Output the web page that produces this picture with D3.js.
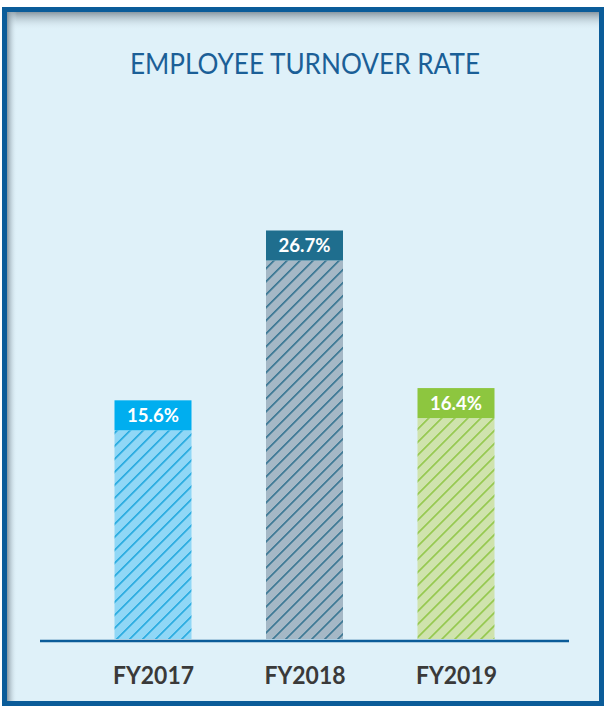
<!DOCTYPE html>
<html>
<head>
<meta charset="utf-8">
<script src="https://cdn.jsdelivr.net/npm/d3@7"></script>
<style>
  html, body { margin: 0; padding: 0; background: #ffffff; }
  svg { display: block; }
</style>
</head>
<body>
<svg id="chart" width="604" height="707"></svg>
<script>
// Turnover rate per fiscal year (percent)
const categories = ["FY2017", "FY2018", "FY2019"];
const values = [15.6, 26.7, 16.4];
const valueLabels = ["15.6%", "26.7%", "16.4%"];

// Per-bar palette: label box, hatch background, hatch stroke
const boxColors = ["#00aeef", "#1f6e8e", "#8dc63f"];
const fillColors = ["#90d7f6", "#a5b8c6", "#cfe3ad"];
const lineColors = ["#18a4dc", "#2a6d8c", "#8cc43f"];

const svg = d3.select("#chart");

const defs = svg.append("defs");

// Soft inner shadow along the top and left edges of the panel
const gTop = defs.append("linearGradient").attr("id", "shadeTop")
  .attr("x1", 0).attr("y1", 0).attr("x2", 0).attr("y2", 1);
gTop.append("stop").attr("offset", 0).attr("stop-color", "#7f8e98").attr("stop-opacity", 0.9);
gTop.append("stop").attr("offset", 1).attr("stop-color", "#dff1f9").attr("stop-opacity", 0);

const gLeft = defs.append("linearGradient").attr("id", "shadeLeft")
  .attr("x1", 0).attr("y1", 0).attr("x2", 1).attr("y2", 0);
gLeft.append("stop").attr("offset", 0).attr("stop-color", "#7f8e98").attr("stop-opacity", 0.9);
gLeft.append("stop").attr("offset", 1).attr("stop-color", "#dff1f9").attr("stop-opacity", 0);

// Diagonal hatch patterns, one per bar
const hs = 9.2;
categories.forEach((c, i) => {
  const p = defs.append("pattern")
    .attr("id", "hatch" + i)
    .attr("patternUnits", "userSpaceOnUse")
    .attr("width", hs).attr("height", hs)
    .attr("patternTransform", "rotate(45)");
  p.append("rect").attr("width", hs).attr("height", hs).attr("fill", fillColors[i]);
  p.append("line").attr("x1", 0.8).attr("y1", 0).attr("x2", 0.8).attr("y2", hs)
    .attr("stroke", lineColors[i]).attr("stroke-width", 1.5);
});

// Panel with frame
svg.append("rect")
  .attr("x", 4.5).attr("y", 9.5).attr("width", 597).attr("height", 694)
  .attr("fill", "#dff1f9").attr("stroke", "#0b5c99").attr("stroke-width", 5);
svg.append("rect").attr("x", 7).attr("y", 12).attr("width", 592).attr("height", 18)
  .attr("fill", "url(#shadeTop)");
svg.append("rect").attr("x", 7).attr("y", 12).attr("width", 10).attr("height", 689)
  .attr("fill", "url(#shadeLeft)");

// Title
svg.append("text")
  .attr("x", 305).attr("y", 74)
  .attr("text-anchor", "middle")
  .attr("font-family", "Lato, 'Open Sans', sans-serif")
  .attr("font-size", 28)
  .attr("textLength", 350)
  .attr("lengthAdjust", "spacingAndGlyphs")
  .attr("fill", "#1b5f97")
  .text("EMPLOYEE TURNOVER RATE");

// Scales
const baseY = 639;
const x = d3.scalePoint().domain(categories).range([153, 456]);
const y = d3.scaleLinear().domain([0, 30]).range([baseY, baseY - 459]);
const barW = 77;
const boxH = 30;

const bars = svg.append("g").selectAll("g")
  .data(categories.map((c, i) => ({ c, v: values[i], label: valueLabels[i], i })))
  .join("g");

bars.append("rect")
  .attr("x", d => x(d.c) - barW / 2)
  .attr("y", d => y(d.v) + boxH)
  .attr("width", barW)
  .attr("height", d => y(0) - y(d.v) - boxH)
  .attr("fill", d => `url(#hatch${d.i})`);

bars.append("rect")
  .attr("x", d => x(d.c) - barW / 2)
  .attr("y", d => y(d.v))
  .attr("width", barW)
  .attr("height", boxH)
  .attr("fill", d => boxColors[d.i]);

bars.append("text")
  .attr("x", d => x(d.c))
  .attr("y", d => y(d.v) + 22)
  .attr("text-anchor", "middle")
  .attr("font-family", "Lato, 'Open Sans', sans-serif")
  .attr("font-weight", "bold")
  .attr("font-size", 19)
  .attr("textLength", 52)
  .attr("lengthAdjust", "spacingAndGlyphs")
  .attr("fill", "#ffffff")
  .text(d => d.label);

// Baseline axis with category labels
const axis = d3.axisBottom(x).tickSize(0).tickPadding(0);
const gAxis = svg.append("g").attr("transform", `translate(0,${baseY + 2})`).call(axis);
gAxis.select(".domain").remove();
gAxis.append("line")
  .attr("x1", 40).attr("x2", 569).attr("y1", 0).attr("y2", 0)
  .attr("stroke", "#0b5c99").attr("stroke-width", 2.5);
gAxis.selectAll(".tick text")
  .attr("dy", 0)
  .attr("y", 43)
  .attr("font-family", "Lato, 'Open Sans', sans-serif")
  .attr("font-weight", "bold")
  .attr("font-size", 24)
  .attr("textLength", 81)
  .attr("lengthAdjust", "spacingAndGlyphs")
  .attr("fill", "#3a3a3a");
</script>
</body>
</html>
